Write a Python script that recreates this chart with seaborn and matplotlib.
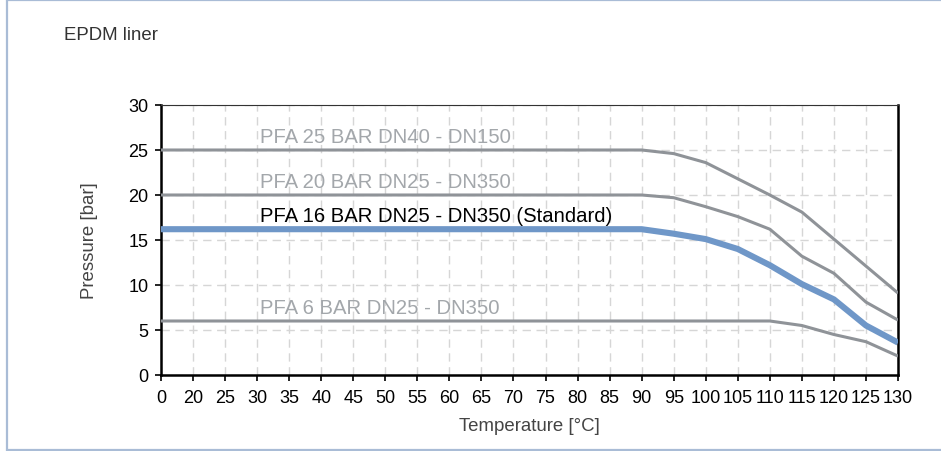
import numpy as np
import pandas as pd
import matplotlib
matplotlib.use("Agg")
import matplotlib.pyplot as plt
from matplotlib.lines import Line2D
import seaborn as sns

temperatures = ["0", "20", "25", "30", "35", "40", "45", "50", "55", "60", "65", "70",
                "75", "80", "85", "90", "95", "100", "105", "110", "115", "120", "125", "130"]
pfa25 = [25]*16 + [24.6, 23.6, 21.8, 20.0, 18.1, 15.1, 12.1, 9.1]
pfa20 = [20]*16 + [19.7, 18.7, 17.6, 16.2, 13.2, 11.3, 8.1, 6.1]
pfa16 = [16.2]*16 + [15.7, 15.1, 14.0, 12.2, 10.1, 8.4, 5.5, 3.6]
pfa6 = [6]*20 + [5.5, 4.5, 3.7, 2.1]
series_names = ["PFA 25 BAR DN40 - DN150", "PFA 20 BAR DN25 - DN350",
                "PFA 16 BAR DN25 - DN350 (Standard)", "PFA 6 BAR DN25 - DN350"]
series_values = [pfa25, pfa20, pfa16, pfa6]
y_ticks = [0, 5, 10, 15, 20, 25, 30]

sns.set_theme(style="white")
plt.rcParams['font.family'] = ['Liberation Sans', 'DejaVu Sans']

fig = plt.figure(figsize=(9.41, 4.52), dpi=100)
ax = fig.add_axes([161/941, 1 - 376/452, (898-161)/941, (376-106)/452])

rows = []
for name, vals in zip(series_names, series_values):
    for i, v in enumerate(vals):
        rows.append({"series": name, "pos": i, "pressure": v})
df = pd.DataFrame(rows)

gray = "#8f9398"
blue = "#6f97c8"
palette = {series_names[0]: gray, series_names[1]: gray,
           series_names[2]: blue, series_names[3]: gray}
sizes = {series_names[0]: 2.2, series_names[1]: 2.2,
         series_names[2]: 4.4, series_names[3]: 2.2}

# grid
ax.set_axisbelow(True)
ax.grid(True, color="#d6d6d6", linestyle=(0, (6, 4)), linewidth=1.0)

sns.lineplot(data=df, x="pos", y="pressure", hue="series", size="series",
             palette=palette, sizes=sizes, legend=False, ax=ax, zorder=3,
             solid_capstyle="butt")

ax.set_xlim(0, len(temperatures) - 1)
ax.set_ylim(0, 30)
ax.set_xticks(np.arange(len(temperatures)))
ax.set_xticklabels(temperatures)
ax.set_yticks(y_ticks)
ax.tick_params(axis="both", which="both", direction="out", length=4, width=1.2,
               color="black", labelsize=13, labelcolor="black",
               bottom=True, left=True)
ax.tick_params(axis="x", pad=6)
ax.tick_params(axis="y", pad=5)

for side in ["left", "bottom", "right"]:
    ax.spines[side].set_color("black")
    ax.spines[side].set_linewidth(1.8)
ax.spines["top"].set_color("#333333")
ax.spines["top"].set_linewidth(0.8)

ax.set_xlabel("Temperature [°C]", fontsize=13.4, color="#444444", labelpad=8)
ax.set_ylabel("Pressure [bar]", fontsize=13.4, color="#444444", labelpad=22)

# series labels
label_colors = ["#a3a7ab", "#a3a7ab", "black", "#a3a7ab"]
for name, vals, c in zip(series_names, series_values, label_colors):
    ax.text(3.09, vals[0] + 0.9, name, fontsize=14.6, color=c, va="baseline",
            ha="left", zorder=4)

fig.text(64/941, 1 - 35/452, "EPDM liner", fontsize=13.4, color="#333333",
         va="center", ha="left")

# outer frame
fc = "#a9bcd6"
fig.add_artist(Line2D([7/941, 7/941], [0, 1], transform=fig.transFigure, color=fc, lw=1.6))
fig.add_artist(Line2D([7/941, 1], [1 - 0.8/452, 1 - 0.8/452], transform=fig.transFigure, color=fc, lw=1.6))
fig.add_artist(Line2D([7/941, 1], [1.2/452, 1.2/452], transform=fig.transFigure, color=fc, lw=1.6))

fig.savefig("out.png", dpi=100)
